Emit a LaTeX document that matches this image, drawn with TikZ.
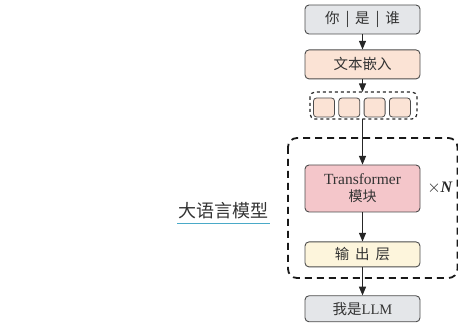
\documentclass[tikz,border=0pt]{standalone}
\usepackage{fontspec}
\setmainfont{Liberation Serif}
\newfontfamily\cjk{Noto Sans CJK SC}
\usetikzlibrary{positioning}
\usetikzlibrary{arrows}
\definecolor{boxgray}{HTML}{E4E6E9}
\definecolor{peach}{HTML}{FBE3D5}
\definecolor{rose}{HTML}{F4C6CA}
\definecolor{cream}{HTML}{FDF5DC}
\definecolor{lineblue}{HTML}{4AAAC8}
\newcommand{\gap}{\hspace{0.4em}}
\tikzstyle{block} = [draw=black!70, line width=0.9pt, rounded corners=4pt, minimum width=115pt, align=center, text=black!80, font=\cjk\fontsize{14.5}{16}\selectfont]
\tikzstyle{token} = [draw=black!70, line width=0.8pt, rounded corners=3pt, fill=peach, minimum width=21pt, minimum height=19pt, inner sep=0pt]
\tikzstyle{link} = [-triangle 45, draw=black!85, line width=1pt]

\begin{document}
\begin{tikzpicture}[
		x=1pt, y=-1pt,
		group/.style = {draw=black!85, dashed, rounded corners=5pt, line width=1.2pt},
		model/.style = {draw=black!90, line width=1.8pt, dash pattern=on 7pt off 5pt, rounded corners=9pt}
	]
	\useasboundingbox (0,0) rectangle (458,328);
	\node [block, fill=boxgray, minimum height=29pt] (input) at (362.5,19.5) {你\gap|\gap 是\gap|\gap 谁};
	\node [block, fill=peach, minimum height=29pt, below=15pt of input] (embed) {文本嵌入};
	\node [token] (t1) at (324,107.5) {};
	\node [token, right=3.5pt of t1] (t2) {};
	\node [token, right=3.5pt of t2] (t3) {};
	\node [token, right=3.5pt of t3] (t4) {};
	\draw [group] (310,92) rectangle (417,119);
	\coordinate (gtop) at (362.5,92);
	\coordinate (gbot) at (362.5,119);
	\node [block, fill=rose, minimum height=47pt, font=\cjk\fontsize{14}{17}\selectfont] (trans) at (362.5,188.5) {{\rmfamily\fontsize{15.5}{17}\selectfont Transformer}\\模块};
	\node [block, fill=cream, minimum height=25pt, below=29pt of trans] (output) {输\gap 出\gap 层};
	\node [block, fill=boxgray, minimum height=26pt, below=28pt of output] (answer) {我是{\rmfamily LLM}};
	\draw [model] (288,138) rectangle (457.5,278);
	\node [font=\fontsize{16}{18}\selectfont, text=black!85, inner sep=1pt] (times) at (440,188) {$\times$\textbf{\textit{N}}};
	\node [font=\cjk\fontsize{18}{20}\selectfont, text=black!80, inner sep=1pt] (llm) at (223.5,211) {大语言模型};
	\draw [lineblue, line width=1.6pt] ([yshift=-3pt]llm.south west) -- ([yshift=-3pt]llm.south east);
	\draw [link] (input) -- (embed);
	\draw [link] (embed) -- (gtop);
	\draw [link] (gbot) -- (trans);
	\draw [link] (trans) -- (output);
	\draw [link] (output) -- (answer);
\end{tikzpicture}
\end{document}
